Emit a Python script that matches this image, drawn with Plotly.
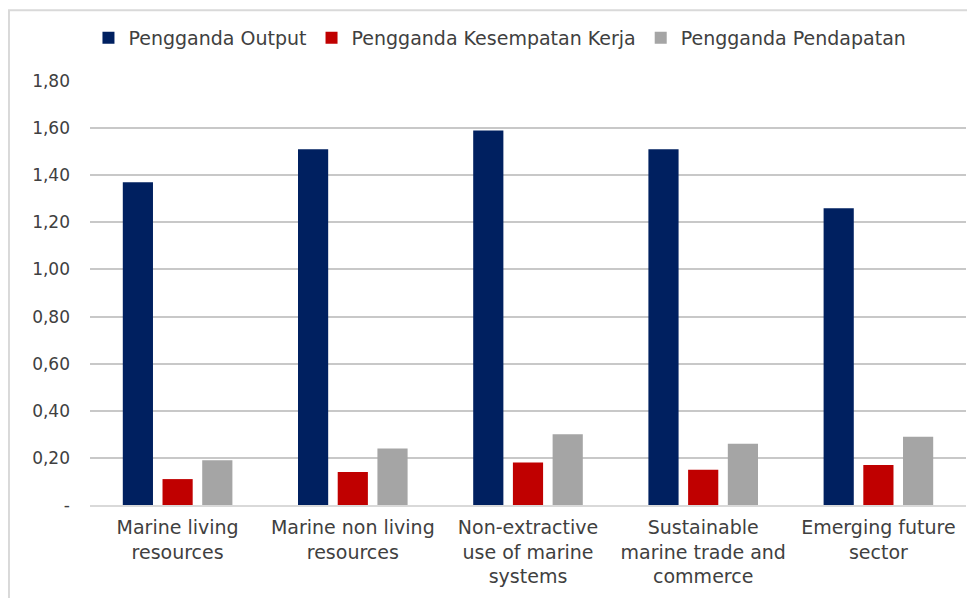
import plotly.graph_objects as go

# sectors on the x axis (line breaks as in the original labels)
sectors = [
    "Marine living<br>resources",
    "Marine non living<br>resources",
    "Non-extractive<br>use of marine<br>systems",
    "Sustainable<br>marine trade and<br>commerce",
    "Emerging future<br>sector",
]

# multiplier values
pengganda_output = [1.37, 1.51, 1.59, 1.51, 1.26]
pengganda_kerja = [0.11, 0.14, 0.18, 0.15, 0.17]
pengganda_pendapatan = [0.19, 0.24, 0.30, 0.26, 0.29]

y_ticks = [0, 0.2, 0.4, 0.6, 0.8, 1.0, 1.2, 1.4, 1.6, 1.8]
y_labels = ["-", "0,20", "0,40", "0,60", "0,80", "1,00", "1,20", "1,40", "1,60", "1,80"]

FONT = "DejaVu Sans"
TEXT = "#404040"

fig = go.Figure()
fig.add_trace(go.Bar(name="Pengganda Output", x=sectors, y=pengganda_output,
                     marker=dict(color="#002060", line=dict(width=0))))
fig.add_trace(go.Bar(name="Pengganda Kesempatan Kerja", x=sectors, y=pengganda_kerja,
                     marker=dict(color="#C00000", line=dict(width=0))))
fig.add_trace(go.Bar(name="Pengganda Pendapatan", x=sectors, y=pengganda_pendapatan,
                     marker=dict(color="#A5A5A5", line=dict(width=0))))

# the page adds an 8px body margin, so the margins are trimmed by 8px
fig.update_layout(
    width=975,
    height=598,
    margin=dict(l=82, r=17, t=72, b=101),
    paper_bgcolor="white",
    plot_bgcolor="white",
    barmode="group",
    bargap=0.32,
    bargroupgap=0.24,
    font=dict(family=FONT, size=18, color=TEXT),
    legend=dict(
        orientation="h",
        x=0.468,
        xanchor="center",
        y=1.099,
        yanchor="middle",
        font=dict(family=FONT, size=19, color=TEXT),
        itemwidth=30,
    ),
    xaxis=dict(
        showgrid=False,
        showline=True,
        linecolor="#d9d9d9",
        linewidth=2,
        ticks="",
        ticklabelstandoff=4,
        tickfont=dict(family=FONT, size=19, color=TEXT),
    ),
    yaxis=dict(
        range=[0, 1.8],
        tickvals=y_ticks,
        ticktext=y_labels,
        showgrid=True,
        gridcolor="#c8c8c8",
        gridwidth=1.5,
        zeroline=False,
        ticks="",
        ticklabelstandoff=19,
        tickfont=dict(family=FONT, size=17, color=TEXT),
    ),
    shapes=[
        dict(type="rect", xref="paper", yref="paper",
             x0=-0.0925, x1=1.2, y0=-0.5, y1=1.167,
             line=dict(color="#d9d9d9", width=2), fillcolor="rgba(0,0,0,0)",
             layer="below"),
    ],
)

fig.write_html("out.html")
